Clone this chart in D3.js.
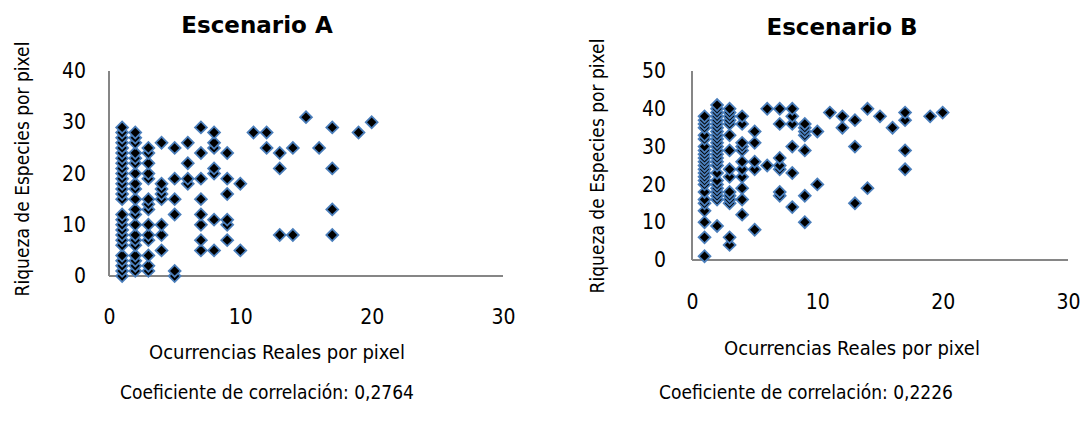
<!DOCTYPE html>
<html>
<head>
<meta charset="utf-8">
<script src="https://cdn.jsdelivr.net/npm/d3@7"></script>
<style>
  body { margin: 0; background: #fff; }
  text { font-family: "DejaVu Sans Condensed", "DejaVu Sans", sans-serif; fill: #000; }
</style>
</head>
<body>
<svg id="chart" width="1084" height="426"></svg>
<script>
// Escenario A: [ocurrencias, [riqueza values at that x]]
const columnsA = [
  [1, [0, 1, 2, 3, 4, 6, 7, 8, 9, 10, 11, 12, 15, 16, 17, 18, 19, 20, 21, 22, 23, 24, 25, 26, 27, 28, 29]],
  [2, [1, 2, 3, 4, 6, 7, 8, 10, 12, 13, 15, 17, 18, 20, 22, 23, 24, 26, 27, 28]],
  [3, [1, 2, 4, 7, 8, 10, 13, 14, 15, 19, 20, 22, 24, 25]],
  [4, [5, 8, 10, 15, 16, 17, 18, 26]],
  [5, [0, 1, 12, 15, 19, 25]],
  [6, [18, 19, 22, 26]],
  [7, [5, 7, 10, 12, 15, 19, 24, 29]],
  [8, [5, 11, 20, 21, 25, 26, 28]],
  [9, [7, 10, 11, 16, 19, 24]],
  [10, [5, 18]],
  [11, [28]],
  [12, [25, 28]],
  [13, [8, 21, 24]],
  [14, [8, 25]],
  [15, [31]],
  [16, [25]],
  [17, [8, 13, 21, 29]],
  [19, [28]],
  [20, [30]]
];

// Escenario B
const columnsB = [
  [1, [1, 6, 10, 13, 15, 16, 18, 20, 21, 22, 23, 24, 25, 26, 27, 28, 29, 30, 32, 33, 35, 36, 37, 38]],
  [2, [9, 16, 17, 18, 19, 20, 21, 23, 25, 26, 27, 28, 29, 30, 31, 32, 33, 34, 35, 36, 37, 38, 39, 40, 41]],
  [3, [4, 6, 15, 16, 17, 18, 22, 24, 29, 33, 36, 37, 38, 39, 40]],
  [4, [12, 16, 19, 22, 24, 26, 29, 30, 31, 36, 38]],
  [5, [8, 24, 26, 31, 34]],
  [6, [25, 40]],
  [7, [17, 18, 24, 25, 27, 36, 40]],
  [8, [14, 23, 30, 36, 38, 40]],
  [9, [10, 17, 29, 33, 34, 35, 36]],
  [10, [20, 34]],
  [11, [39]],
  [12, [35, 38]],
  [13, [15, 30, 37]],
  [14, [19, 40]],
  [15, [38]],
  [16, [35]],
  [17, [24, 29, 37, 39]],
  [19, [38]],
  [20, [39]]
];

const xTicks = [0, 10, 20, 30];
const yTicksA = [0, 10, 20, 30, 40];
const yTicksB = [0, 10, 20, 30, 40, 50];

const titles = ["Escenario A", "Escenario B"];
const xTitle = "Ocurrencias Reales por pixel";
const yTitle = "Riqueza de Especies por pixel";
const correlations = ["Coeficiente de correlación: 0,2764", "Coeficiente de correlación: 0,2226"];

const svg = d3.select("#chart");

const panels = [
  {
    columns: columnsA, yMax: 40, yTicks: yTicksA,
    x: [109, 503], y: [276, 71],
    title: { x: 257, y: 33 }, xLabelY: 41, xTitleAt: { x: 277, y: 359 },
    yTitleAt: { x: 29, y: 169 }, yPad: 23, corr: { x: 267, y: 399 }
  },
  {
    columns: columnsB, yMax: 50, yTicks: yTicksB,
    x: [692, 1068], y: [260, 71],
    title: { x: 842, y: 35 }, xLabelY: 42, xTitleAt: { x: 852, y: 355 },
    yTitleAt: { x: 604, y: 166 }, yPad: 26, corr: { x: 806, y: 399 }
  }
];

const diamond = d3.symbol(d3.symbolSquare, 70)();

panels.forEach((p, i) => {
  const x = d3.scaleLinear().domain([0, 30]).range(p.x);
  const y = d3.scaleLinear().domain([0, p.yMax]).range(p.y);
  const g = svg.append("g");

  // title
  g.append("text")
    .attr("x", p.title.x).attr("y", p.title.y)
    .attr("text-anchor", "middle")
    .style("font-family", "'DejaVu Sans', sans-serif")
    .style("font-weight", "bold").style("font-size", "23px")
    .text(titles[i]);

  // axes
  const xAxis = g.append("g")
    .attr("transform", `translate(0,${p.y[0]})`)
    .call(d3.axisBottom(x).tickValues(xTicks).tickSize(0));
  xAxis.selectAll("text").attr("y", p.xLabelY).attr("dy", "0.35em");

  const yAxis = g.append("g")
    .attr("transform", `translate(${p.x[0]},0)`)
    .call(d3.axisLeft(y).tickValues(p.yTicks).tickSize(0).tickPadding(p.yPad));

  [xAxis, yAxis].forEach(a => {
    a.select(".domain").attr("stroke", "#868686").attr("stroke-width", 2);
    a.selectAll("text").style("font-size", "21px")
      .style("font-family", "'DejaVu Sans Condensed', 'DejaVu Sans', sans-serif");
  });
  xAxis.select(".domain").attr("d", `M${p.x[0]},0H${p.x[1]}`);
  yAxis.select(".domain").attr("d", `M0,${p.y[1]}V${p.y[0]}`);

  // axis titles
  g.append("text")
    .attr("x", p.xTitleAt.x).attr("y", p.xTitleAt.y)
    .attr("text-anchor", "middle").style("font-size", "20px")
    .text(xTitle);
  g.append("text")
    .attr("transform", `translate(${p.yTitleAt.x},${p.yTitleAt.y}) rotate(-90)`)
    .attr("text-anchor", "middle").style("font-size", "19px")
    .text(yTitle);

  // points
  const pts = p.columns.flatMap(([cx, ys]) => ys.map(v => ({ x: cx, y: v })));
  g.append("g").selectAll("path")
    .data(pts)
    .join("path")
    .attr("d", diamond)
    .attr("transform", d => `translate(${x(d.x)},${y(d.y)}) rotate(45)`)
    .attr("fill", "#000")
    .attr("stroke", "#4a7ebb")
    .attr("stroke-width", 1.8);

  // correlation note
  g.append("text")
    .attr("x", p.corr.x).attr("y", p.corr.y)
    .attr("text-anchor", "middle").style("font-size", "19px")
    .text(correlations[i]);
});
</script>
</body>
</html>
